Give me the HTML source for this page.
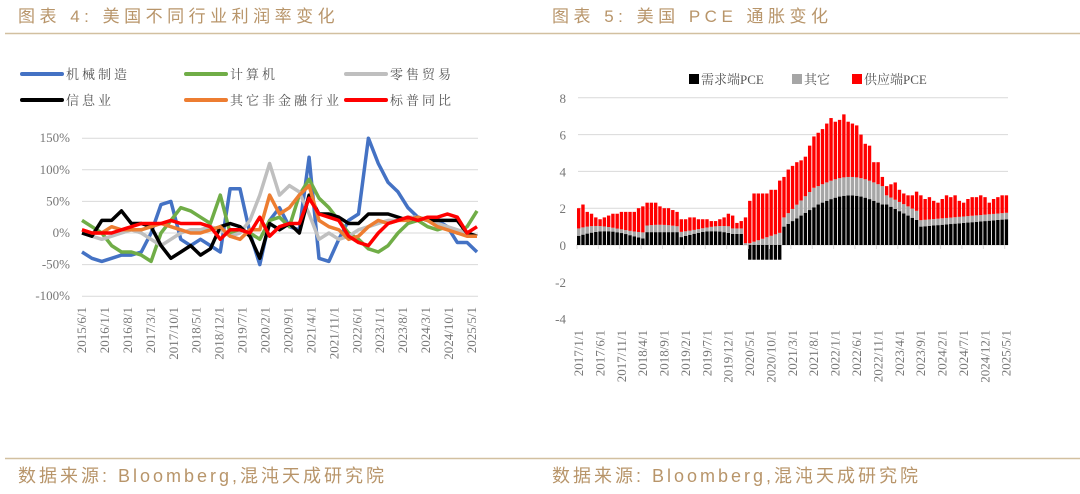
<!DOCTYPE html>
<html><head><meta charset="utf-8"><style>
body{margin:0;width:1080px;height:494px;background:#fff;overflow:hidden;font-family:"Liberation Serif","Noto Serif CJK SC",serif;}
svg{position:absolute;left:0;top:0}
</style></head><body>
<svg id="s" width="1080" height="494" xmlns="http://www.w3.org/2000/svg">
<g font-family="Liberation Sans,Noto Sans CJK SC,sans-serif" fill="#b8956a" font-size="17">
<text x="18" y="22" letter-spacing="4.5">图表 4:  美国不同行业利润率变化</text>
<text x="552" y="22" letter-spacing="4.5">图表 5:  美国 PCE 通胀变化</text>
<text x="18" y="482" font-size="18" letter-spacing="3">数据来源:  Bloomberg,混沌天成研究院</text>
<text x="552" y="482" font-size="18" letter-spacing="3">数据来源:  Bloomberg,混沌天成研究院</text>
</g>
<line x1="5" y1="33.5" x2="1080" y2="33.5" stroke="#d2c0a0" stroke-width="1.5"/>
<line x1="5" y1="458.5" x2="1080" y2="458.5" stroke="#d2c0a0" stroke-width="1.5"/>
<g id="L"></g><g id="R"></g>
</svg>
<script>
const NS="http://www.w3.org/2000/svg";
function el(p,t,a,txt){const e=document.createElementNS(NS,t);for(const k in a)e.setAttribute(k,a[k]);if(txt!==undefined)e.textContent=txt;p.appendChild(e);return e;}
const L=document.getElementById('L'),R=document.getElementById('R');
const yv=v=>233-v*0.632;
[150,100,50,0,-50,-100].forEach(v=>{el(L,'line',{x1:82,x2:478,y1:yv(v),y2:yv(v),stroke:'#d9d9d9','stroke-width':1});
el(L,'text',{x:70,y:yv(v)+4,'text-anchor':'end','font-size':13,fill:'#777'},v+'%');});
const labs=['2015/6/1','2016/1/1','2016/8/1','2017/3/1','2017/10/1','2018/5/1','2018/12/1','2019/7/1','2020/2/1','2020/9/1','2021/4/1','2021/11/1','2022/6/1','2023/1/1','2023/8/1','2024/3/1','2024/10/1','2025/5/1'];
labs.forEach((l,i)=>{const x=82+i*(390/17)+4;el(L,'text',{transform:`translate(${x},307) rotate(-90)`,'text-anchor':'end','font-size':13,fill:'#777'},l);});
const S={
'#4472c4':[-30,-40,-45,-40,-35,-35,-30,0,45,50,-10,-20,-10,-20,-30,70,70,0,-50,20,40,10,5,120,-40,-45,-10,20,30,150,110,80,65,40,25,20,20,10,-15,-15,-30],
'#70ad47':[20,10,0,-20,-30,-30,-35,-45,0,20,40,35,25,15,60,0,5,0,-10,20,25,10,60,85,55,40,20,0,-10,-25,-30,-20,0,15,20,10,5,10,0,10,35],
'#bfbfbf':[0,-5,-10,-5,0,5,0,-10,-20,-10,0,5,5,10,5,-5,0,20,60,110,60,75,65,30,-10,0,-10,-5,5,10,15,20,20,25,25,20,15,10,5,0,-5],
'#000000':[0,-5,20,20,35,15,15,10,-20,-40,-30,-20,-35,-25,10,15,10,-5,-40,15,5,15,0,60,30,30,25,15,15,30,30,30,25,20,25,20,20,20,20,0,-5],
'#ed7d31':[5,0,0,10,5,5,5,10,15,10,5,0,0,5,10,-5,-10,5,5,60,30,40,60,75,20,10,5,-10,-5,10,20,15,20,20,25,20,10,5,0,-5,-5],
'#ff0000':[5,0,0,0,5,10,15,15,15,20,15,15,15,10,-10,5,5,0,25,-5,10,15,15,55,30,25,20,-5,-15,-20,0,15,20,25,20,25,25,30,25,0,10]};
for(const c in S){const d=S[c];el(L,'polyline',{points:d.map((v,i)=>(82+i*395/40).toFixed(1)+','+yv(v).toFixed(1)).join(' '),fill:'none',stroke:c,'stroke-width':3.5,'stroke-linejoin':'round'});}
const lg=[['#4472c4','机械制造',22,74],['#70ad47','计算机',186,74],['#bfbfbf','零售贸易',346,74],['#000000','信息业',22,100],['#ed7d31','其它非金融行业',186,100],['#ff0000','标普同比',346,100]];
lg.forEach(([c,t,x,y])=>{el(L,'line',{x1:x,x2:x+40,y1:y,y2:y,stroke:c,'stroke-width':4,'stroke-linecap':'round'});
el(L,'text',{x:x+44,y:y+5,'font-size':13,fill:'#555','letter-spacing':3,'font-family':'Liberation Serif,Noto Serif CJK SC,serif'},t);});
const ry=v=>245-v*18.4;
[8,6,4,2,0,-2,-4].forEach(v=>{if(v>0)el(R,'line',{x1:578,x2:1008,y1:ry(v),y2:ry(v),stroke:'#d9d9d9','stroke-width':1});
el(R,'text',{x:566,y:ry(v)+5,'text-anchor':'end','font-size':13,fill:'#777'},v);});
el(R,'line',{x1:576,x2:1008,y1:245,y2:245,stroke:'#d9d9d9'});
const tot=[2.0,2.2,1.8,1.7,1.5,1.4,1.5,1.6,1.7,1.7,1.8,1.8, 1.8,1.8,2.0,2.1,2.3,2.3,2.3,2.1,2.0,2.0,1.9,1.8, 1.4,1.4,1.5,1.5,1.4,1.4,1.4,1.3,1.3,1.4,1.5,1.7, 1.6,1.2,1.3,1.5,1.6,2.0,2.0,2.0,2.0,2.2,2.2,2.7, 3.7,4.1,4.3,4.5,4.6,4.8,5.4,5.9,6.1,6.3,6.6,6.9, 6.7,6.8,7.1,6.7,6.6,6.5,6.0,5.5,5.4,4.5,4.5,3.7, 3.2,3.3,3.4,3.0,2.8,2.7,2.7,2.9,2.7,2.5,2.6,2.4, 2.3,2.5,2.7,2.6,2.7,2.4,2.3,2.5,2.6,2.6,2.7,2.6, 2.3,2.5,2.6,2.7,2.7];
const blk=[],gry=[];
for(let i=0;i<101;i++){let b,g;
if(i<40){b=0.5+0.25*Math.sin(i/4);if(i>=16&&i<24)b=0.7;g=0.3+0.1*Math.cos(i/3);}
if(i>=40&&i<48){b=-0.8;g=0.1+(i-40)*0.08;}
if(i>=36&&i<40){b=0.6;g=0.3;if(i==39){b=0;g=0.1;}}
if(i>=48&&i<56){b=1.0+(i-48)*0.15;g=0.5+(i-48)*0.08;}
if(i>=56&&i<72){b=2.2+0.5*Math.sin((i-56)/15*Math.PI);g=1.0;}
if(i>=72&&i<80){b=2.2-(i-72)*0.12;g=0.5;}
if(i>=80){b=1.0+(i-80)*0.02;g=0.35;}
blk.push(b);gry.push(g);}
const bw=432/101;
for(let i=0;i<101;i++){const x=577+i*bw,w=bw-0.9;const b=blk[i],g=gry[i],t=tot[i];
if(b>=0){el(R,'rect',{x,y:ry(b),width:w,height:b*18.4,fill:'#000'});el(R,'rect',{x,y:ry(b+g),width:w,height:g*18.4,fill:'#a6a6a6'});const rb=b+g;el(R,'rect',{x,y:ry(t),width:w,height:Math.max(0,(t-rb)*18.4),fill:'#ff0000'});}
else{el(R,'rect',{x,y:245,width:w,height:-b*18.4,fill:'#000'});el(R,'rect',{x,y:ry(g),width:w,height:g*18.4,fill:'#a6a6a6'});el(R,'rect',{x,y:ry(t-b),width:w,height:Math.max(0,(t-b-g)*18.4),fill:'#ff0000'});}}
for(let i=0;i<21;i++){const x=577+i*5*bw+2;el(R,'line',{x1:x-2,x2:x-2,y1:245,y2:249,stroke:'#d9d9d9'});
const m=(i*5)%12+1,y=2017+Math.floor(i*5/12);el(R,'text',{transform:`translate(${x+4},330) rotate(-90)`,'text-anchor':'end','font-size':13,fill:'#777'},y+'/'+m+'/1');}
[['#000','需求端PCE',689],['#a6a6a6','其它',792],['#ff0000','供应端PCE',852]].forEach(([c,t,x])=>{el(R,'rect',{x,y:74,width:10,height:10,fill:c});el(R,'text',{x:x+12,y:84,'font-size':13,fill:'#555','font-family':'Liberation Serif,Noto Serif CJK SC,serif'},t);});
</script>
</body></html>
